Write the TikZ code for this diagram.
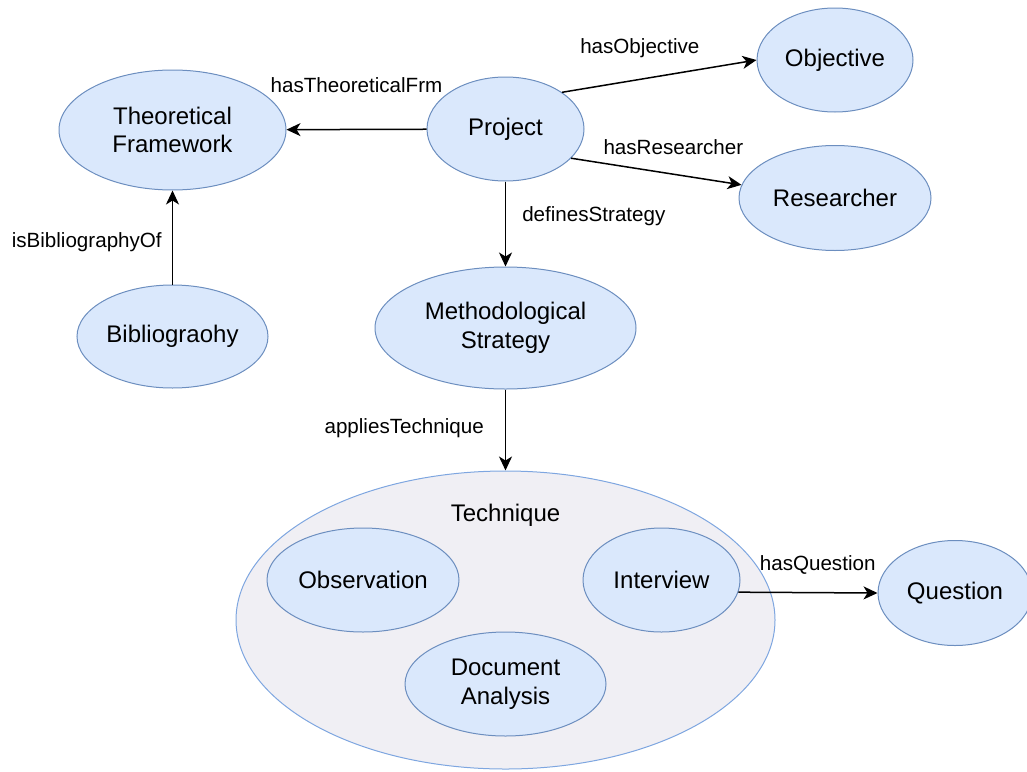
\documentclass[tikz,border=0pt]{standalone}
\usepackage{fontspec}
\setmainfont{Liberation Sans}
\usetikzlibrary{shapes.geometric}
\usetikzlibrary{arrows.meta}

\definecolor{classfill}{HTML}{DAE8FC}
\definecolor{classline}{HTML}{6C8EBF}
\definecolor{setfill}{HTML}{F0EFF4}
\definecolor{setline}{HTML}{7EA6E0}

\begin{document}
\begin{tikzpicture}[x=1pt,y=-1pt,
    concept/.style={ellipse,draw=classline,fill=classfill,line width=1pt,inner sep=0pt,
      align=center,font=\fontsize{24}{28.5}\selectfont},
    relation/.style={-{Stealth[length=14pt,width=13pt,inset=4pt]},line width=1.5pt},
    rellabel/.style={inner sep=0pt,font=\fontsize{20.6}{24}\selectfont}]
  \useasboundingbox (0,0) rectangle (1027,771);

  % technique set with its members
  \node[ellipse,draw=setline,fill=setfill,line width=1pt,minimum width=539pt,minimum height=298pt] (technique) at (505.5,620) {};
  \node[font=\fontsize{24}{28.5}\selectfont] (techniqueTitle) at (505.5,515) {Technique};
  \node[concept,minimum width=192pt,minimum height=104pt] (observation) at (363,580) {Observation};
  \node[concept,minimum width=157pt,minimum height=104pt] (interview) at (661.5,580) {Interview};
  \node[concept,minimum width=201pt,minimum height=104pt] (docAnalysis) at (505.5,684) {Document\\Analysis};

  \node[concept,minimum width=157pt,minimum height=104pt] (project) at (505.5,129) {Project};
  \node[concept,minimum width=156pt,minimum height=104pt] (objective) at (835,60) {Objective};
  \node[concept,minimum width=192pt,minimum height=105pt] (researcher) at (835,198) {Researcher};
  \node[concept,minimum width=227pt,minimum height=120pt] (theory) at (172.5,130) {Theoretical\\Framework};
  \node[concept,minimum width=191pt,minimum height=103pt] (bibliography) at (172.5,336.5) {Bibliograohy};
  \node[concept,minimum width=261pt,minimum height=122pt] (strategy) at (505.5,328) {Methodological\\Strategy};
  \node[concept,minimum width=154pt,minimum height=105pt] (question) at (955,593) {Question};

  % relations
  \draw[relation] (project) -- (theory)
    node[rellabel,midway,yshift=44pt] {hasTheoreticalFrm};
  \draw[relation] (project.33) -- (objective.west)
    node[rellabel,pos=0.4,yshift=31.5pt] {hasObjective};
  \draw[relation] (project.-24) -- (researcher.172)
    node[rellabel,pos=0.6,yshift=27pt] {hasResearcher};
  \draw[relation] (project) -- (strategy)
    node[rellabel,midway,anchor=west,xshift=16pt,yshift=8pt] {definesStrategy};
  \draw[relation] (bibliography) -- (theory)
    node[rellabel,midway,anchor=east,xshift=-10pt,yshift=-4.5pt] {isBibliographyOf};
  \draw[relation] (strategy) -- (technique)
    node[rellabel,midway,anchor=east,xshift=-21pt,yshift=2pt] {appliesTechnique};
  \draw[relation] (interview.-9) -- (question.west)
    node[rellabel,pos=0.57,yshift=27.5pt] {hasQuestion};
\end{tikzpicture}
\end{document}
